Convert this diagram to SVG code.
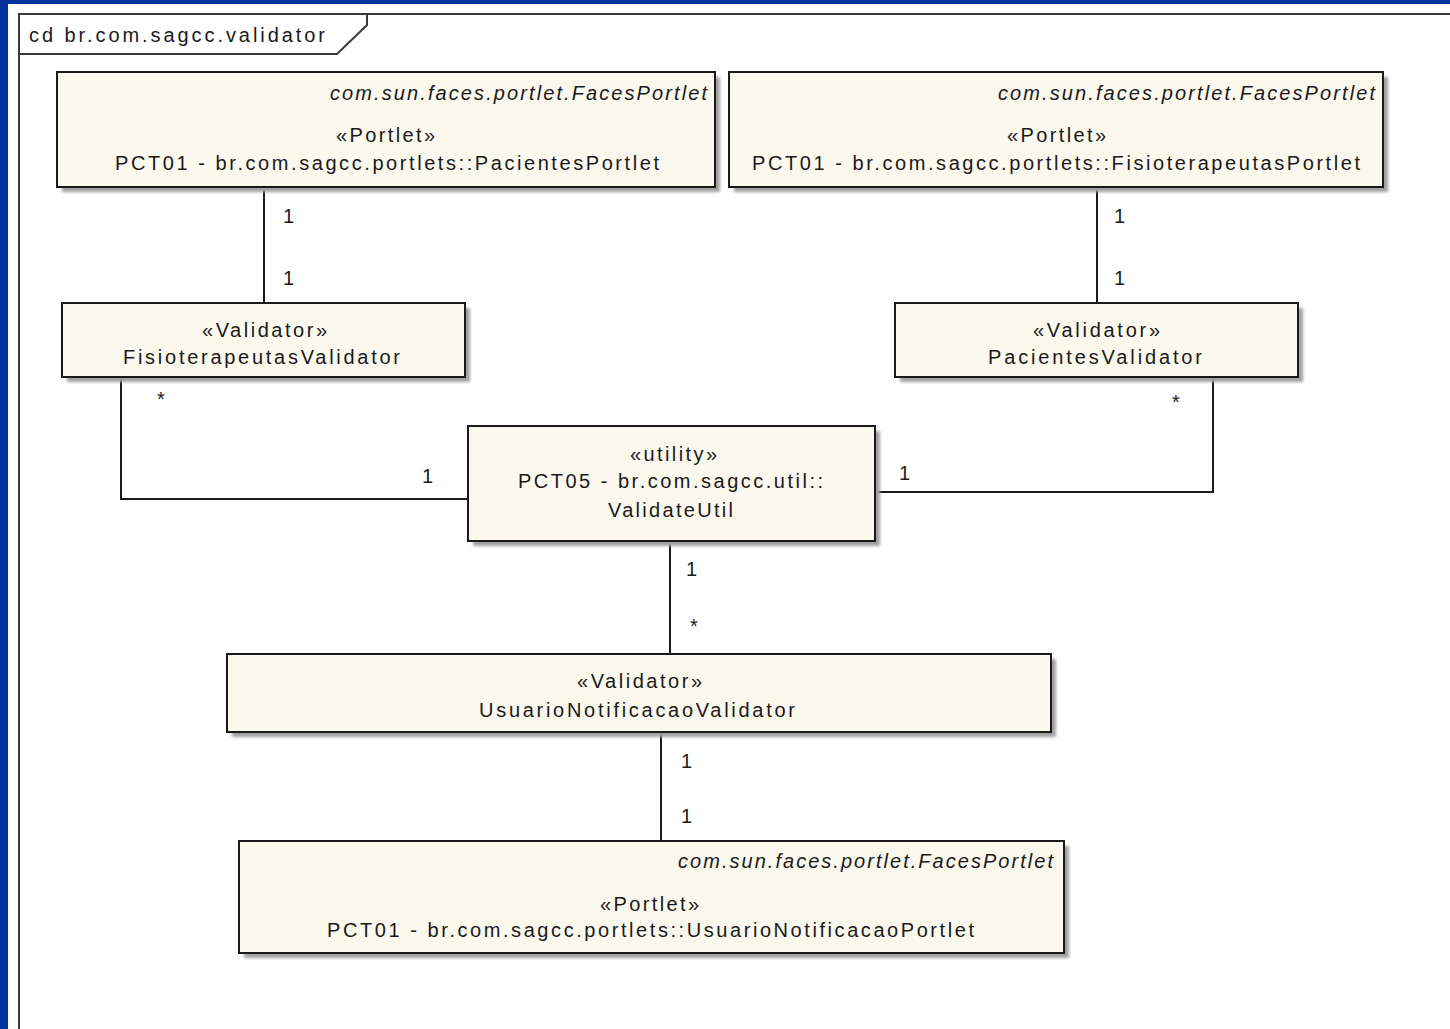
<svg xmlns="http://www.w3.org/2000/svg" width="1450" height="1029" viewBox="0 0 1450 1029">
<style>
  .box { fill: #fbf8ee; stroke: #1a1a1a; stroke-width: 2; }
  .shadow { fill: #a0a0a0; filter: url(#blur); }
  .t { font-family: "Liberation Sans", Arial, sans-serif; font-size: 20px; fill: #1a1a1a; }
  .i { font-style: italic; }
  .conn { fill: none; stroke: #1a1a1a; stroke-width: 2; }
  .frame { fill: none; stroke: #3a3a3a; stroke-width: 2; }
</style>
<defs>
  <filter id="blur" x="-5%" y="-5%" width="110%" height="120%">
    <feGaussianBlur stdDeviation="1.5"/>
  </filter>
</defs>
<rect x="0" y="0" width="1450" height="1029" fill="#003399"/>
<rect x="8" y="4" width="1442" height="1025" fill="#ffffff"/>

<g id="frame">
  <path class="frame" d="M19,1029 V14 H1450"/>
  <path class="frame" d="M19,54 H337 L367,25 V14"/>
  <text class="t" x="29" y="42" textLength="296" lengthAdjust="spacing">cd br.com.sagcc.validator</text>
</g>

<g id="connectors">
  <line class="conn" x1="264" y1="187" x2="264" y2="303"/>
  <line class="conn" x1="1097" y1="187" x2="1097" y2="303"/>
  <polyline class="conn" points="121,377 121,499 468,499"/>
  <polyline class="conn" points="1213,377 1213,492 875,492"/>
  <line class="conn" x1="670" y1="541" x2="670" y2="654"/>
  <line class="conn" x1="661" y1="732" x2="661" y2="841"/>
  <text class="t" x="283" y="223">1</text>
  <text class="t" x="283" y="285">1</text>
  <text class="t" x="1114" y="223">1</text>
  <text class="t" x="1114" y="285">1</text>
  <text class="t" x="157" y="406">*</text>
  <text class="t" x="422" y="483">1</text>
  <text class="t" x="1172" y="409">*</text>
  <text class="t" x="899" y="480">1</text>
  <text class="t" x="686" y="576">1</text>
  <text class="t" x="690" y="633">*</text>
  <text class="t" x="681" y="768">1</text>
  <text class="t" x="681" y="823">1</text>
</g>

<g id="PacientesPortlet">
  <rect class="shadow" x="62" y="77" width="658" height="115"/>
  <rect class="box" x="57" y="72" width="658" height="115"/>
  <text class="t i" x="330" y="100" textLength="377" lengthAdjust="spacing">com.sun.faces.portlet.FacesPortlet</text>
  <text class="t" x="336" y="142" textLength="99" lengthAdjust="spacing">«Portlet»</text>
  <text class="t" x="115" y="170" textLength="544" lengthAdjust="spacing">PCT01 - br.com.sagcc.portlets::PacientesPortlet</text>
</g>

<g id="FisioterapeutasPortlet">
  <rect class="shadow" x="734" y="77" width="654" height="115"/>
  <rect class="box" x="729" y="72" width="654" height="115"/>
  <text class="t i" x="998" y="100" textLength="377" lengthAdjust="spacing">com.sun.faces.portlet.FacesPortlet</text>
  <text class="t" x="1007" y="142" textLength="99" lengthAdjust="spacing">«Portlet»</text>
  <text class="t" x="752" y="170" textLength="608" lengthAdjust="spacing">PCT01 - br.com.sagcc.portlets::FisioterapeutasPortlet</text>
</g>

<g id="FisioterapeutasValidator">
  <rect class="shadow" x="67" y="308" width="403" height="74"/>
  <rect class="box" x="62" y="303" width="403" height="74"/>
  <text class="t" x="202" y="337" textLength="125" lengthAdjust="spacing">«Validator»</text>
  <text class="t" x="123" y="364" textLength="277" lengthAdjust="spacing">FisioterapeutasValidator</text>
</g>

<g id="PacientesValidator">
  <rect class="shadow" x="900" y="308" width="403" height="74"/>
  <rect class="box" x="895" y="303" width="403" height="74"/>
  <text class="t" x="1033" y="337" textLength="127" lengthAdjust="spacing">«Validator»</text>
  <text class="t" x="988" y="364" textLength="214" lengthAdjust="spacing">PacientesValidator</text>
</g>

<g id="ValidateUtil">
  <rect class="shadow" x="473" y="431" width="407" height="115"/>
  <rect class="box" x="468" y="426" width="407" height="115"/>
  <text class="t" x="630" y="461" textLength="87" lengthAdjust="spacing">«utility»</text>
  <text class="t" x="518" y="488" textLength="305" lengthAdjust="spacing">PCT05 - br.com.sagcc.util::</text>
  <text class="t" x="608" y="517" textLength="125" lengthAdjust="spacing">ValidateUtil</text>
</g>

<g id="UsuarioNotificacaoValidator">
  <rect class="shadow" x="232" y="659" width="824" height="78"/>
  <rect class="box" x="227" y="654" width="824" height="78"/>
  <text class="t" x="577" y="688" textLength="125" lengthAdjust="spacing">«Validator»</text>
  <text class="t" x="479" y="717" textLength="316" lengthAdjust="spacing">UsuarioNotificacaoValidator</text>
</g>

<g id="UsuarioNotificacaoPortlet">
  <rect class="shadow" x="244" y="846" width="825" height="112"/>
  <rect class="box" x="239" y="841" width="825" height="112"/>
  <text class="t i" x="678" y="868" textLength="375" lengthAdjust="spacing">com.sun.faces.portlet.FacesPortlet</text>
  <text class="t" x="600" y="911" textLength="99" lengthAdjust="spacing">«Portlet»</text>
  <text class="t" x="327" y="937" textLength="647" lengthAdjust="spacing">PCT01 - br.com.sagcc.portlets::UsuarioNotificacaoPortlet</text>
</g>
</svg>
